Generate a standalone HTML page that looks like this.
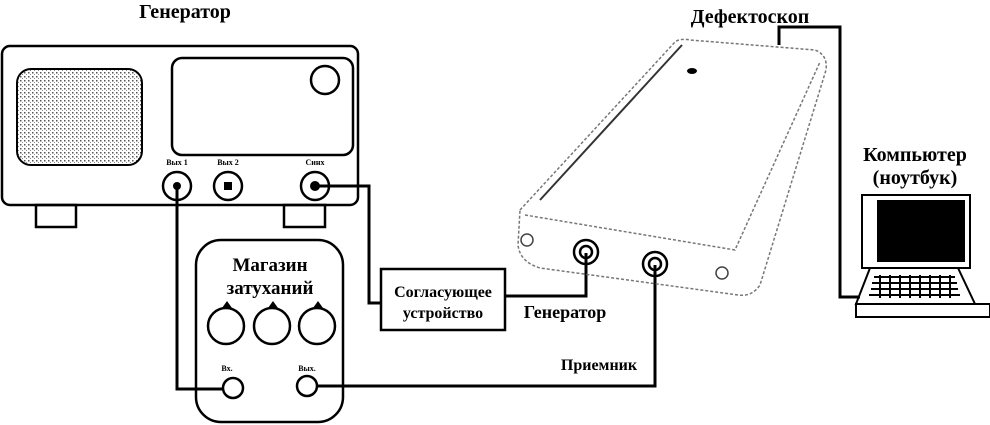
<!DOCTYPE html>
<html><head><meta charset="utf-8"><style>
html,body{margin:0;padding:0;background:#fff;}
svg{display:block;}
text{font-family:"Liberation Serif","DejaVu Serif",serif;font-weight:bold;fill:#000;}
</style></head><body>
<svg width="990" height="425" viewBox="0 0 990 425" xmlns="http://www.w3.org/2000/svg">
<defs><pattern id="dots" width="4" height="4" patternUnits="userSpaceOnUse"><rect width="4" height="4" fill="#fff"/><rect x="0" y="0" width="1.5" height="1.5" fill="#555"/><rect x="2" y="2" width="1" height="1" fill="#888"/></pattern></defs>
<g fill="none" stroke="#000" stroke-width="2.5">
<rect x="2" y="46" width="356" height="159" rx="8"/>
<rect x="17" y="69" width="125" height="96" rx="14" stroke-width="2" fill="url(#dots)"/>
<rect x="172" y="58" width="181" height="97" rx="10"/>
<circle cx="325" cy="80" r="14"/>
<circle cx="177" cy="186" r="14"/>
<circle cx="228" cy="186" r="14"/>
<circle cx="315" cy="186" r="14"/>
<rect x="36" y="205" width="40" height="22"/>
<rect x="284" y="205" width="41" height="22"/>
<rect x="196" y="240" width="147" height="182" rx="25"/>
<circle cx="226" cy="326" r="18"/>
<circle cx="272" cy="326" r="18"/>
<circle cx="317" cy="326" r="18"/>
<circle cx="233" cy="388" r="10"/>
<circle cx="307" cy="386" r="10"/>
<rect x="381" y="269" width="124" height="61"/>
<polyline points="315,186 369,186 369,303 381,303" stroke-width="3"/>
<polyline points="177,186 177,389 223,389" stroke-width="3"/>
<polyline points="317,386 655,386 655,265" stroke-width="3"/>
<polyline points="505,296 586,296 586,253" stroke-width="3"/>
<polyline points="779,45 779,27 840,27 840,297 860,297" stroke-width="3"/>
</g>
<g fill="#000">
<circle cx="177" cy="186" r="4"/><rect x="224" y="182" width="8" height="8"/><circle cx="315" cy="186" r="5"/>
<path d="M222 308 l5 -7 l5 7z"/><path d="M268 308 l5 -7 l5 7z"/><path d="M313 308 l5 -7 l5 7z"/>
</g>
<g fill="none" stroke="#777" stroke-width="1.5" stroke-dasharray="3,2">
<path d="M520 210 L675 42 Q680 38 690 40 L815 50 Q828 55 826 70 L760 285 Q752 297 738 295 L540 268 Q520 262 518 245 Z"/>
<path d="M525 215 L735 250 L820 62"/>
<path d="M540 200 L682 45" stroke="#333" stroke-dasharray="none" stroke-width="2"/>
</g>
<g fill="none" stroke="#000" stroke-width="2.5">
<circle cx="586" cy="252" r="12"/><circle cx="586" cy="252" r="6"/>
<circle cx="655" cy="264" r="12"/><circle cx="655" cy="264" r="6"/>
</g>
<g fill="none" stroke="#444" stroke-width="1.5">
<circle cx="527" cy="240" r="6"/><circle cx="722" cy="273" r="6"/>
</g>
<ellipse cx="692" cy="71" rx="5" ry="3" fill="#000"/>
<rect x="862" y="195" width="108" height="73" fill="none" stroke="#000" stroke-width="2"/>
<rect x="877" y="200" width="88" height="62" fill="#000"/>
<path d="M870 268 L958 268 L975 304 L856 304 Z" fill="none" stroke="#000" stroke-width="2"/>
<rect x="856" y="304" width="134" height="13" fill="none" stroke="#000" stroke-width="2"/>
<g fill="none" stroke="#000" stroke-width="2">
<path d="M874 277 H955 M872 283 H957 M871 289 H958 M869 295 H960"/>
<path d="M880 275 V298 M890 275 V298 M900 275 V298 M910 275 V298 M920 275 V298 M930 275 V298 M940 275 V298 M950 275 V298"/>
</g>
<text x="185" y="18" font-size="20" text-anchor="middle">Генератор</text>
<text x="750" y="23" font-size="20" text-anchor="middle">Дефектоскоп</text>
<text x="915" y="161" font-size="20" text-anchor="middle">Компьютер</text>
<text x="915" y="184" font-size="20" text-anchor="middle">(ноутбук)</text>
<text x="270" y="271" font-size="19" text-anchor="middle">Магазин</text>
<text x="270" y="294" font-size="19" text-anchor="middle">затуханий</text>
<text x="443" y="297" font-size="16" text-anchor="middle">Согласующее</text>
<text x="443" y="318" font-size="16" text-anchor="middle">устройство</text>
<text x="565" y="318" font-size="18" text-anchor="middle">Генератор</text>
<text x="599" y="370" font-size="16" text-anchor="middle">Приемник</text>
<text x="177" y="165" font-size="8" text-anchor="middle">Вых 1</text>
<text x="228" y="165" font-size="8" text-anchor="middle">Вых 2</text>
<text x="315" y="165" font-size="8" text-anchor="middle">Синх</text>
<text x="227" y="371" font-size="8" text-anchor="middle">Вх.</text>
<text x="307" y="371" font-size="8" text-anchor="middle">Вых.</text>
</svg>
</body></html>
